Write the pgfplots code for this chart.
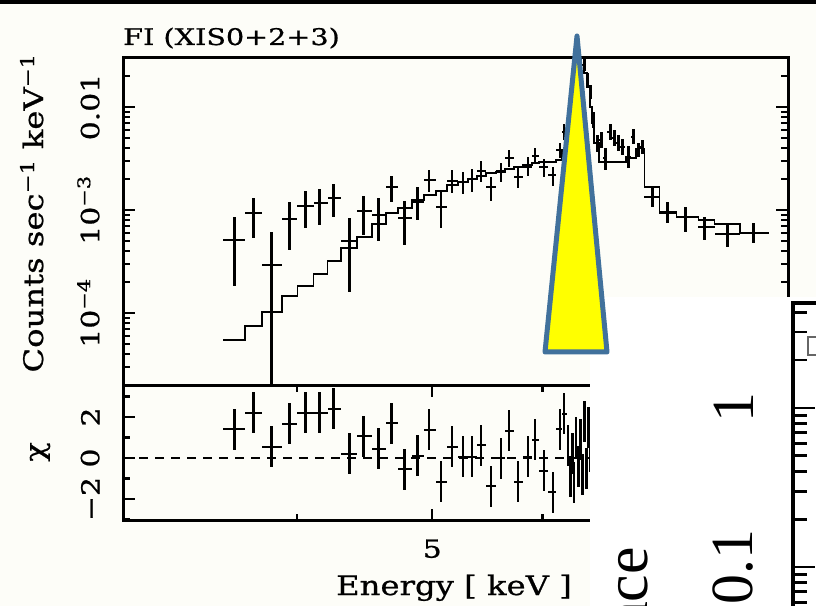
\documentclass[border=0pt]{standalone}
\usepackage{fontspec}
\setmainfont{DejaVu Serif}[FakeStretch=1.2, FakeBold=0.8]
\newfontfamily\titlefont{DejaVu Serif}[FakeStretch=1.25, FakeBold=0.7]
\newfontfamily\timesfont{Liberation Serif}
\usepackage{pgfplots}
\pgfplotsset{compat=1.18}
\usepackage{pgfplotstable}
\definecolor{bgcream}{RGB}{253,253,248}
\definecolor{triyellow}{RGB}{255,255,0}
\definecolor{triblue}{RGB}{65,113,156}

% observed spectrum: bin centre, bin edges, rate, rate range
\pgfplotstableread{
E      Elo    Ehi    y         ylo       yhi
3.606  3.540  3.672  5.11e-4   1.83e-4   8.55e-4
3.721  3.672  3.777  9.35e-4   5.35e-4   1.308e-3
3.834  3.777  3.904  2.92e-4   1.0e-5    6.11e-4
3.950  3.904  4.002  8.18e-4   4.09e-4   1.196e-3
4.056  4.002  4.110  1.093e-3  6.69e-4   1.529e-3
4.151  4.110  4.206  1.169e-3  7.15e-4   1.599e-3
4.248  4.206  4.298  1.308e-3  8.55e-4   1.788e-3
4.362  4.298  4.413  5.00e-4   1.60e-4   8.36e-4
4.465  4.413  4.524  9.78e-4   5.72e-4   1.367e-3
4.577  4.524  4.630  8.94e-4   5.00e-4   1.308e-3
4.677  4.630  4.723  1.672e-3  1.196e-3  2.138e-3
4.778  4.723  4.834  8.36e-4   4.57e-4   1.223e-3
4.882  4.834  4.931  1.196e-3  8.00e-4   1.672e-3
4.972  4.931  5.030  1.956e-3  1.495e-3  2.445e-3
5.072  5.030  5.123  1.069e-3  6.69e-4   1.495e-3
5.165  5.123  5.217  1.912e-3  1.462e-3  2.445e-3
5.260  5.217  5.304  1.870e-3  1.430e-3  2.338e-3
5.339  5.304  5.384  2.000e-3  1.495e-3  2.501e-3
5.419  5.384  5.465  2.391e-3  1.870e-3  2.990e-3
5.510  5.465  5.556  1.672e-3  1.223e-3  2.091e-3
5.602  5.556  5.639  2.391e-3  1.870e-3  2.860e-3
5.677  5.639  5.724  3.198e-3  2.615e-3  3.823e-3
5.762  5.724  5.810  2.091e-3  1.635e-3  2.615e-3
5.858  5.810  5.897  2.615e-3  2.138e-3  3.270e-3
5.927  5.897  5.966  3.344e-3  2.797e-3  3.998e-3
6.016  5.966  6.056  2.615e-3  2.091e-3  3.128e-3
6.106  6.056  6.136  2.187e-3  1.710e-3  2.615e-3
6.177  6.136  6.198  3.823e-3  3.198e-3  4.472e-3
6.218  6.198  6.249  5.719e-3  4.781e-3  6.839e-3
6.270  6.249  6.291  8.364e-3  6.993e-3  1.000e-2
6.312  6.291  6.332  1.462e-2  1.251e-2  1.710e-2
6.354  6.332  6.375  2.557e-2  2.237e-2  2.924e-2
6.391  6.375  6.406  2.860e-2  2.501e-2  2.980e-2
6.428  6.406  6.449  2.557e-2  2.237e-2  2.924e-2
6.460  6.449  6.481  1.829e-2  1.564e-2  2.138e-2
6.492  6.481  6.513  1.398e-2  1.196e-2  1.635e-2
6.524  6.513  6.546  7.476e-3  6.253e-3  8.943e-3
6.568  6.546  6.590  4.472e-3  3.656e-3  5.348e-3
6.611  6.590  6.633  4.781e-3  3.998e-3  5.719e-3
6.655  6.633  6.677  3.198e-3  2.445e-3  3.998e-3
6.710  6.677  6.733  5.719e-3  4.781e-3  6.839e-3
6.755  6.733  6.778  5.000e-3  4.182e-3  5.980e-3
6.800  6.778  6.823  4.472e-3  3.739e-3  5.348e-3
6.845  6.823  6.880  4.089e-3  3.420e-3  4.890e-3
6.914  6.880  6.948  3.270e-3  2.557e-3  4.182e-3
6.971  6.948  6.994  5.114e-3  4.373e-3  6.115e-3
7.029  6.994  7.053  3.823e-3  3.270e-3  4.472e-3
7.076  7.053  7.100  4.089e-3  3.497e-3  4.781e-3
7.194  7.100  7.278  1.337e-3  1.069e-3  1.672e-3
7.375  7.278  7.486  9.35e-4   7.48e-4   1.196e-3
7.598  7.486  7.764  8.55e-4   6.11e-4   1.069e-3
7.841  7.764  7.972  6.84e-4   5.11e-4   8.55e-4
8.146  7.972  8.310  5.85e-4   4.37e-4   7.48e-4
8.504  8.310  8.718  5.98e-4   4.78e-4   7.48e-4
}\specdata

% folded model (left bin edge, value)
\pgfplotstableread{
E      y
3.540  5.47e-5
3.672  7.48e-5
3.777  1.023e-4
3.904  1.46e-4
4.002  1.83e-4
4.110  2.39e-4
4.206  3.20e-4
4.298  4.28e-4
4.413  5.47e-4
4.524  7.31e-4
4.630  9.35e-4
4.723  1.046e-3
4.834  1.251e-3
4.931  1.398e-3
5.030  1.529e-3
5.123  1.748e-3
5.217  1.870e-3
5.304  2.000e-3
5.384  2.138e-3
5.465  2.287e-3
5.556  2.338e-3
5.639  2.501e-3
5.724  2.615e-3
5.810  2.735e-3
5.897  2.860e-3
5.966  2.924e-3
6.136  3.058e-3
6.198  3.8e-3
6.249  6.0e-3
6.291  1.2e-2
6.332  2.2e-2
6.375  2.95e-2
6.406  2.95e-2
6.428  2.138e-2
6.460  1.564e-2
6.492  1.0e-2
6.513  6.993e-3
6.535  4.472e-3
6.590  2.924e-3
6.891  3.198e-3
7.006  3.95e-3
7.100  1.672e-3
7.278  9.56e-4
7.486  8.55e-4
7.764  8.00e-4
7.972  7.31e-4
8.310  5.98e-4
8.718  5.98e-4
}\modeldata

% residuals chi
\pgfplotstableread{
E      Elo    Ehi    chi
3.606  3.540  3.672  1.41
3.721  3.672  3.777  2.20
3.834  3.777  3.904  0.54
3.950  3.904  4.002  1.66
4.056  4.002  4.110  2.20
4.151  4.110  4.206  2.20
4.248  4.206  4.298  2.40
4.362  4.298  4.413  0.20
4.465  4.413  4.524  1.07
4.577  4.524  4.630  0.44
4.677  4.630  4.723  1.70
4.778  4.723  4.834  -0.54
4.882  4.834  4.931  0.10
4.972  4.931  5.030  1.37
5.072  5.030  5.123  -1.17
5.165  5.123  5.217  0.54
5.260  5.217  5.304  0.05
5.339  5.304  5.384  0.05
5.419  5.384  5.465  0.63
5.510  5.465  5.556  -1.37
5.602  5.556  5.639  0.00
5.677  5.639  5.724  1.32
5.762  5.724  5.810  -1.17
5.858  5.810  5.897  0.05
5.927  5.897  5.966  0.88
6.016  5.966  6.056  -0.63
6.106  6.056  6.136  -1.66
6.177  6.136  6.198  1.41
6.218  6.198  6.249  2.15
6.259  6.249  6.270  0.6
6.281  6.270  6.291  -0.9
6.302  6.291  6.312  0.2
6.322  6.312  6.332  -1.2
6.343  6.332  6.354  1.0
6.365  6.354  6.375  -0.4
6.386  6.375  6.396  0.9
6.407  6.396  6.417  -0.8
6.428  6.417  6.438  1.8
6.449  6.438  6.460  -0.5
6.470  6.460  6.481  1.5
6.492  6.481  6.503  0.3
}\resdata

\begin{document}
\begin{tikzpicture}
\path[use as bounding box] (0,0) rectangle (816bp,606bp);
\fill[bgcream] (0,0) rectangle (816bp,606bp);

% upper panel: spectrum
\begin{axis}[
  at={(123bp,221bp)}, anchor=south west,
  width=665bp, height=327bp, scale only axis,
  xmode=log, xmin=3, xmax=9,
  ymode=log, ymin=2.0e-5, ymax=0.0299,
  line width=3bp,
  tick align=inside,
  axis line style={line width=3bp, black},
  tick style={line width=2.4bp, black},
  major tick length=12bp, minor tick length=7bp,
  xtick=\empty, minor xtick={4,5,6,7,8},
  ytick={1e-4,1e-3,1e-2},
  yticklabels={10\textsuperscript{−4},10\textsuperscript{−3},0.01},
  minor ytick={3e-5,4e-5,5e-5,6e-5,7e-5,8e-5,9e-5,2e-4,3e-4,4e-4,5e-4,6e-4,7e-4,8e-4,9e-4,2e-3,3e-3,4e-3,5e-3,6e-3,7e-3,8e-3,9e-3,2e-2},
  yticklabel style={xshift=-22bp, rotate=90, anchor=south, inner sep=0pt, font=\fontsize{25}{25}\selectfont},
]
\addplot[const plot, black, line width=1.8bp, mark=none] table[x=E, y=y] {\modeldata};
\addplot[draw=none, mark=none,
  error bars/.cd, x dir=both, x explicit, y dir=both, y explicit,
  error mark=none, error bar style={draw=black, solid, line width=2.6bp}]
  table[x=E, y=y,
    x error plus expr=\thisrow{Ehi}-\thisrow{E},
    x error minus expr=\thisrow{E}-\thisrow{Elo},
    y error plus expr=\thisrow{yhi}-\thisrow{y},
    y error minus expr=\thisrow{y}-\thisrow{ylo}] {\specdata};
\end{axis}

% lower panel: residuals
\begin{axis}[
  at={(123bp,85bp)}, anchor=south west,
  width=665bp, height=136bp, scale only axis,
  xmode=log, xmin=3, xmax=9,
  ymin=-3.073, ymax=3.561,
  line width=3bp,
  tick align=inside,
  axis line style={line width=3bp, black},
  tick style={line width=2.4bp, black},
  major tick length=12bp, minor tick length=7bp,
  xtick={5}, xticklabels={5}, minor xtick={4,6,7,8},
  ytick={-2,0,2}, yticklabels={−2,0,2},
  minor ytick={-3,-1,1,3},
  yticklabel style={xshift=-22bp, rotate=90, anchor=south, inner sep=0pt, font=\fontsize{25}{25}\selectfont},
  xticklabel style={yshift=-17bp, anchor=north, inner sep=0pt, font=\fontsize{25}{25}\selectfont},
]
\addplot[black, line width=1.5bp, dash pattern=on 9bp off 7bp] coordinates {(3,0) (9,0)};
\addplot[draw=none, mark=none,
  error bars/.cd, x dir=both, x explicit, y dir=both, y fixed=1,
  error mark=none, error bar style={draw=black, solid, line width=2.6bp}]
  table[x=E, y=chi,
    x error plus expr=\thisrow{Ehi}-\thisrow{E},
    x error minus expr=\thisrow{E}-\thisrow{Elo}] {\resdata};
\end{axis}

% labels
\node[anchor=base west, inner sep=0pt, font=\titlefont\fontsize{23}{23}\selectfont] at (123bp,561bp) {FI (XIS0+2+3)};
\node[rotate=90, anchor=base, inner sep=0pt, font=\fontsize{27}{27}\selectfont] at (43bp,393bp) {Counts sec\textsuperscript{−1} keV\textsuperscript{−1}};
\node[rotate=90, inner sep=0pt, font=\fontsize{27}{27}\selectfont] at (40bp,154bp) {χ};
\node[anchor=base, inner sep=0pt, font=\fontsize{27}{27}\selectfont] at (454bp,11bp) {Energy [ keV ]};

% overlapping second figure
\fill[white] (590bp,0) rectangle (816bp,309bp);
\begin{axis}[
  at={(793bp,-120bp)}, anchor=south west,
  width=300bp, height=423bp, scale only axis,
  xmin=0, xmax=10, ymode=log, ymin=0.01, ymax=4.57,
  xtick=\empty, ytick={0.1,1}, yticklabels={0.1,1},
  minor ytick={0.02,0.03,0.04,0.05,0.06,0.07,0.08,0.09,0.2,0.3,0.4,0.5,0.6,0.7,0.8,0.9,2,3,4},
  ytick pos=left, tick align=inside,
  line width=3bp,
  major tick length=22bp, minor tick length=14bp,
  axis line style={line width=3.2bp, black},
  tick style={line width=2.8bp, black},
  yticklabel style={xshift=-38bp, rotate=90, anchor=south, inner sep=0pt, font=\timesfont\fontsize{60}{60}\selectfont},
]
\addplot[only marks, mark=square, mark size=9bp, mark options={line width=1.2bp, draw=black!60}] coordinates {(0.8,2.455)};
\end{axis}
\node[rotate=90, anchor=base east, inner sep=0pt, font=\timesfont\fontsize{62}{62}\selectfont] at (647bp,59bp) {Abundance};

% callout triangle
\draw[triblue, line width=5bp, line join=round, fill=triyellow] (577bp,570bp) -- (545bp,254bp) -- (607bp,254bp) -- cycle;

% black band at the top
\fill[black] (0,601.5bp) rectangle (816bp,606bp);
\end{tikzpicture}
\end{document}
